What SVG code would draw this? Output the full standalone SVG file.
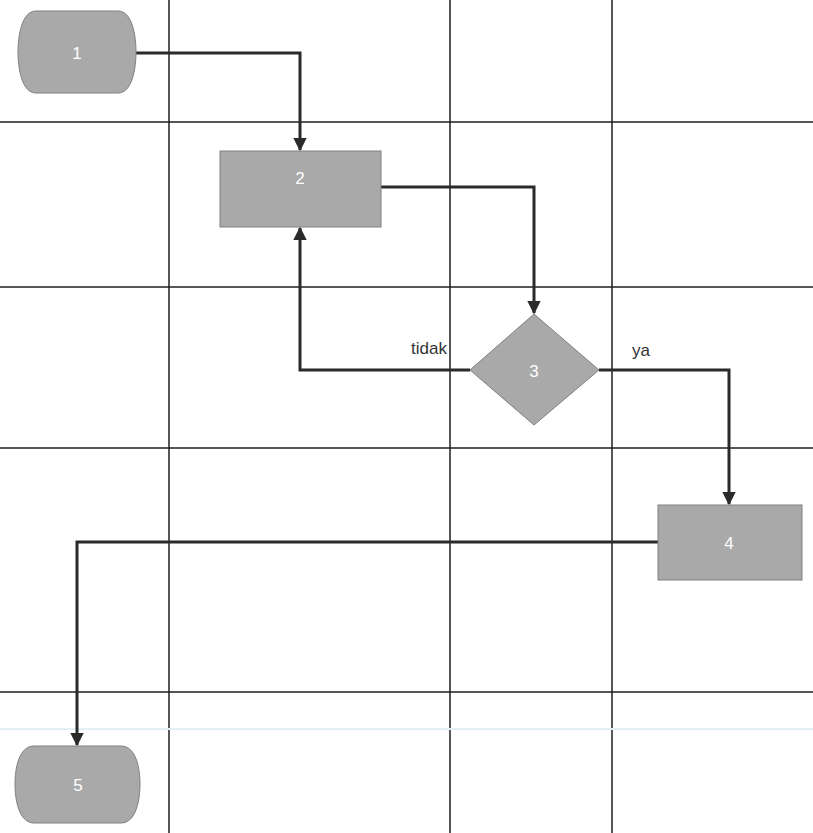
<svg xmlns="http://www.w3.org/2000/svg" width="813" height="833" viewBox="0 0 813 833">
<defs>
<marker id="arr" viewBox="0 0 10 10" refX="9" refY="5" markerWidth="4.5" markerHeight="4.5" orient="auto" markerUnits="strokeWidth">
<path d="M0,0 L10,5 L0,10 z" fill="#2a2a2a"/>
</marker>
<style>
.grid{stroke:#1e1e1e;stroke-width:1.5;fill:none}
.node{fill:#a9a9a9;stroke:#808080;stroke-width:1}
.lbl{font-family:"Liberation Sans",Arial,sans-serif;font-size:17px;fill:#ffffff;text-anchor:middle;dominant-baseline:central}
.edge{stroke:#2a2a2a;stroke-width:3;fill:none;marker-end:url(#arr)}
.elbl{font-family:"Liberation Sans",Arial,sans-serif;font-size:17px;fill:#333}
</style>
</defs>
<rect width="813" height="833" fill="#ffffff"/>
<g id="grid">
<line class="grid" x1="169" y1="0" x2="169" y2="833"/>
<line class="grid" x1="450" y1="0" x2="450" y2="833"/>
<line class="grid" x1="612" y1="0" x2="612" y2="833"/>
<line class="grid" x1="0" y1="122" x2="813" y2="122"/>
<line class="grid" x1="0" y1="287" x2="813" y2="287"/>
<line class="grid" x1="0" y1="448" x2="813" y2="448"/>
<line class="grid" x1="0" y1="692" x2="813" y2="692"/>
<line x1="0" y1="729" x2="813" y2="729" stroke="#e3f1f6" stroke-width="2"/>
</g>
<g id="connectors">
<polyline class="edge" points="136,53 300,53 300,150"/>
<polyline class="edge" points="381,187 534,187 534,313"/>
<polyline class="edge" points="470,370 300,370 300,228"/>
<polyline class="edge" points="599,370 729,370 729,504"/>
<polyline class="edge" points="658,542 77,542 77,745"/>
<text class="elbl" x="411" y="354">tidak</text>
<text class="elbl" x="632" y="356">ya</text>
</g>
<g id="node1">
<path class="node" d="M36,11 L118,11 C132,11 136,35 136,52 C136,69 132,93 118,93 L36,93 C22,93 18,69 18,52 C18,35 22,11 36,11 Z"/>
<text class="lbl" x="77" y="53">1</text>
</g>
<g id="node2">
<rect class="node" x="220" y="151" width="161" height="76"/>
<text class="lbl" x="300" y="178">2</text>
</g>
<g id="node3">
<polygon class="node" points="534,314 599,370 534,425 470,370"/>
<text class="lbl" x="534" y="371">3</text>
</g>
<g id="node4">
<rect class="node" x="658" y="505" width="144" height="75"/>
<text class="lbl" x="729" y="543">4</text>
</g>
<g id="node5">
<path class="node" d="M34,746 L121,746 C136,746 140,768 140,784 C140,800 136,823 121,823 L34,823 C19,823 15,800 15,784 C15,768 19,746 34,746 Z"/>
<text class="lbl" x="78" y="785">5</text>
</g>
</svg>
